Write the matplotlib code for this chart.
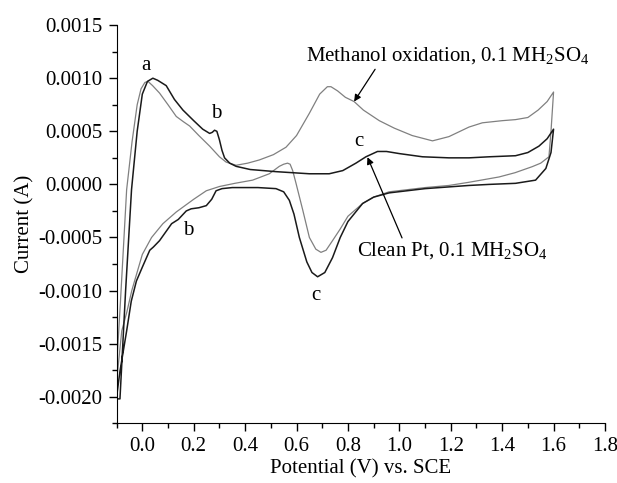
import matplotlib
matplotlib.use("Agg")
import matplotlib.pyplot as plt
from matplotlib.ticker import MultipleLocator, FormatStrFormatter

# Methanol oxidation (grey) - anodic then cathodic sweep
meoh_x = [-0.1, -0.085, -0.061, -0.04, -0.02, -0.005, 0.01, 0.022, 0.04, 0.067, 0.1, 0.132, 0.16,
          0.184, 0.22, 0.262, 0.3, 0.326, 0.365, 0.41, 0.455, 0.51, 0.559, 0.6, 0.65, 0.69, 0.72,
          0.734, 0.76, 0.79, 0.824, 0.86, 0.922, 0.98, 1.05, 1.129, 1.193, 1.271, 1.323, 1.4,
          1.452, 1.5, 1.54, 1.575, 1.6,
          1.59, 1.582, 1.55, 1.517, 1.45, 1.388, 1.271, 1.193, 1.1, 0.96, 0.9, 0.857, 0.8, 0.77,
          0.74, 0.715, 0.695, 0.675, 0.65, 0.624, 0.598, 0.585, 0.575, 0.565, 0.55, 0.533, 0.494,
          0.429, 0.36, 0.3, 0.249, 0.2, 0.132, 0.08, 0.036, 0.0, -0.041, -0.06, -0.08, -0.096, -0.1]
meoh_y = [-0.00172, -0.0011, -0.00005, 0.0004, 0.00075, 0.0009, 0.00096, 0.00097, 0.00093, 0.00086,
          0.00075, 0.00064, 0.00059, 0.00055, 0.00046, 0.00036, 0.00026, 0.00021, 0.00018, 0.0002,
          0.00023, 0.00028, 0.00035, 0.00046, 0.00067, 0.00085, 0.00092, 0.00092, 0.00088, 0.00082,
          0.00078, 0.0007, 0.0006, 0.00053, 0.00046, 0.00041, 0.00045, 0.00054, 0.00058, 0.0006,
          0.00061, 0.00063, 0.0007, 0.00078, 0.00087,
          0.0005, 0.00026, 0.0002, 0.000167, 0.00011, 0.00007, 0.00002, -0.00001, -0.00003,
          -0.00007, -0.00012, -0.00018, -0.0003, -0.00042, -0.00053, -0.00062, -0.00064, -0.00061,
          -0.0005, -0.00024, 0.00001, 0.00013, 0.00019, 0.0002, 0.00019, 0.00017, 0.0001, 0.00004,
          0.00001, -0.00002, -0.00006, -0.00014, -0.00026, -0.00037, -0.0005, -0.00066, -0.001,
          -0.0012, -0.00138, -0.00176, -0.00185]

# Clean Pt (black) - anodic then cathodic sweep
pt_x = [-0.1, -0.087, -0.065, -0.042, -0.02, 0.0, 0.02, 0.041, 0.06, 0.093, 0.125, 0.158, 0.2,
        0.235, 0.262, 0.272, 0.281, 0.29, 0.3, 0.31, 0.32, 0.34, 0.365, 0.42, 0.52, 0.65, 0.727,
        0.78, 0.831, 0.87, 0.915, 0.95, 1.0, 1.09, 1.193, 1.271, 1.35, 1.452, 1.5, 1.543, 1.575, 1.6,
        1.59, 1.57, 1.53, 1.452, 1.35, 1.271, 1.1, 0.96, 0.9, 0.857, 0.8, 0.77, 0.74, 0.71, 0.682,
        0.66, 0.64, 0.611, 0.59, 0.572, 0.55, 0.52, 0.45, 0.35, 0.31, 0.287, 0.27, 0.249, 0.22,
        0.19, 0.171, 0.14, 0.114, 0.067, 0.043, 0.029, 0.0, -0.023, -0.043, -0.061, -0.087, -0.1]
pt_y = [-0.00202, -0.00202, -0.001, -0.00005, 0.0005, 0.00085, 0.00097, 0.001, 0.00098, 0.00093,
        0.0008, 0.0007, 0.0006, 0.00052, 0.00048, 0.00049, 0.00051, 0.0005, 0.00042, 0.00032,
        0.00025, 0.0002, 0.00017, 0.00014, 0.00012, 0.0001, 0.0001, 0.00013, 0.0002, 0.00026,
        0.00031, 0.00031, 0.00029, 0.00026, 0.00025, 0.00025, 0.00026, 0.00027, 0.0003, 0.00036,
        0.00043, 0.00052,
        0.0003, 0.00015, 0.00004, 0.00001, 0.0, -0.00001, -0.00004, -0.00008, -0.00012, -0.00018,
        -0.00035, -0.0005, -0.00069, -0.00083, -0.00087, -0.00083, -0.00073, -0.0005, -0.00028,
        -0.00015, -0.00007, -0.00004, -0.00003, -0.00003, -0.00004, -0.00006, -0.00014, -0.0002,
        -0.00022, -0.00023, -0.00025, -0.00033, -0.00037, -0.00053, -0.00059, -0.00062, -0.00078,
        -0.00091, -0.0011, -0.00138, -0.00176, -0.002]

x_ticks = [0.0, 0.2, 0.4, 0.6, 0.8, 1.0, 1.2, 1.4, 1.6, 1.8]
y_ticks = [-0.002, -0.0015, -0.001, -0.0005, 0.0, 0.0005, 0.001, 0.0015]

plt.rcParams['font.family'] = ['Liberation Serif', 'DejaVu Serif']
plt.rcParams['mathtext.fontset'] = 'custom'
plt.rcParams['mathtext.rm'] = 'Liberation Serif'

FS = 15

fig = plt.figure(figsize=(6.17, 4.83), dpi=100)
ax = fig.add_axes([0.189, 0.1236, 0.7915, 0.8244])

ax.plot(meoh_x, meoh_y, color='#808080', lw=0.9)
ax.plot(pt_x, pt_y, color='#1a1a1a', lw=1.1)

ax.set_xlim(-0.1, 1.8)
ax.set_ylim(-0.00225, 0.0015)
ax.set_xticks(x_ticks)
ax.set_yticks(y_ticks)
ax.xaxis.set_minor_locator(MultipleLocator(0.1))
ax.yaxis.set_minor_locator(MultipleLocator(0.00025))
ax.xaxis.set_major_formatter(FormatStrFormatter('%.1f'))
ax.yaxis.set_major_formatter(FormatStrFormatter('%.4f'))
ax.spines['top'].set_visible(False)
ax.spines['right'].set_visible(False)
ax.tick_params(which='major', direction='out', length=6, width=1, labelsize=FS, pad=4)
ax.tick_params(which='minor', direction='out', length=3.5, width=1)

ax.set_xlabel('Potential (V) vs. SCE', fontsize=FS, labelpad=2)
ax.set_ylabel('Current (A)', fontsize=FS, labelpad=3)

ax.text(0.015, 0.00112, 'a', fontsize=FS, ha='center', va='center')
ax.text(0.287, 0.00067, 'b', fontsize=FS, ha='center', va='center')
ax.text(0.18, -0.00043, 'b', fontsize=FS, ha='center', va='center')
ax.text(0.844, 0.0004, 'c', fontsize=FS, ha='center', va='center')
ax.text(0.676, -0.00105, 'c', fontsize=FS, ha='center', va='center')

ax.annotate('Methanol oxidation, 0.1 MH$_2$SO$_4$', xy=(0.824, 0.00078), xytext=(0.637, 0.00121),
            fontsize=FS, ha='left', va='center',
            arrowprops=dict(arrowstyle='-|>', color='black', lw=0.9, shrinkA=0, shrinkB=0,
                            mutation_scale=10,
                            relpos=(0.25, 0.0)))
ax.annotate('Clean Pt, 0.1 MH$_2$SO$_4$', xy=(0.876, 0.000256), xytext=(0.837, -0.00063),
            fontsize=FS, ha='left', va='center',
            arrowprops=dict(arrowstyle='-|>', color='black', lw=0.9, shrinkA=0, shrinkB=0,
                            mutation_scale=10,
                            relpos=(0.24, 1.0)))

fig.savefig('out.png', dpi=100)
